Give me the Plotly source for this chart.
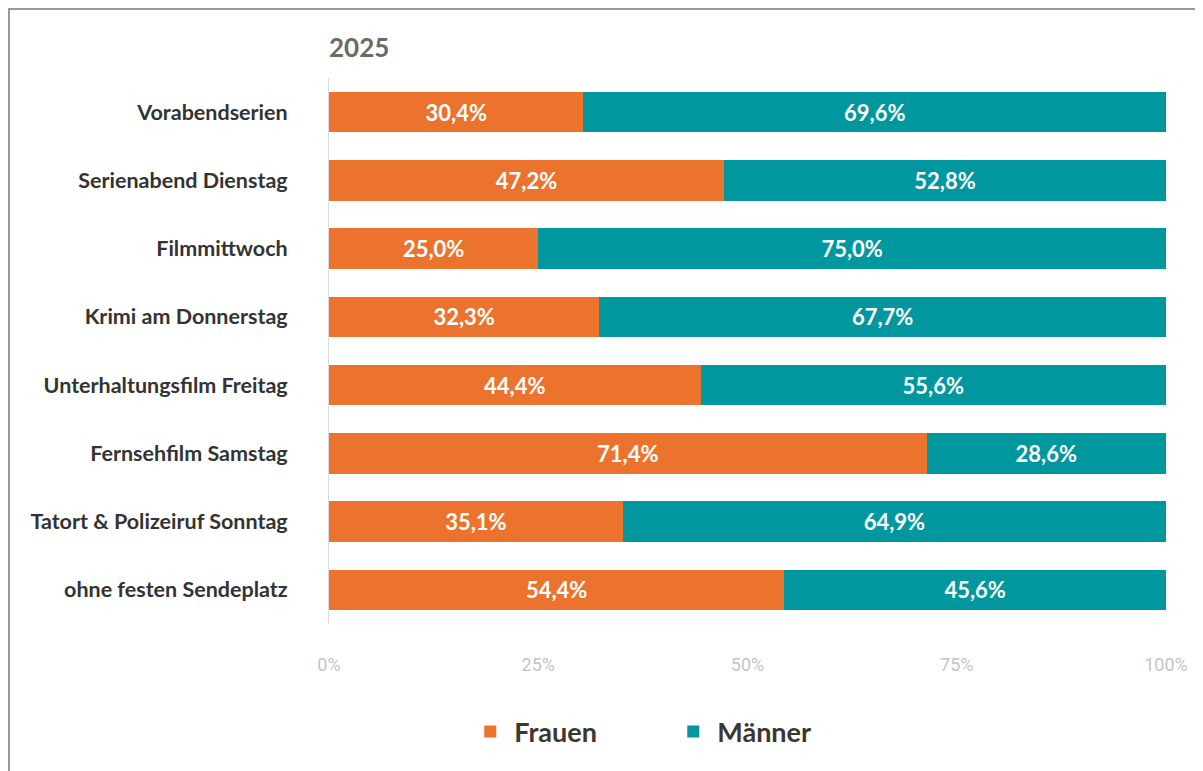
import plotly.graph_objects as go

categories = ["Vorabendserien", "Serienabend Dienstag", "Filmmittwoch", "Krimi am Donnerstag",
              "Unterhaltungsfilm Freitag", "Fernsehfilm Samstag", "Tatort & Polizeiruf Sonntag",
              "ohne festen Sendeplatz"]
frauen = [30.4, 47.2, 25.0, 32.3, 44.4, 71.4, 35.1, 54.4]
maenner = [69.6, 52.8, 75.0, 67.7, 55.6, 28.6, 64.9, 45.6]
x_ticks = [0, 25, 50, 75, 100]
x_ticklabels = ["0%", "25%", "50%", "75%", "100%"]

def fmt(v):
    return f"{v:.1f}%".replace(".", ",")

ORANGE = "#EC732D"
TEAL = "#00979F"
FONT = "Lato, 'Open Sans', sans-serif"

W, H = 1195, 763
L, T, PW, PH = 321, 70, 837, 546

fig = go.Figure()
for name, vals, col in [("Frauen", frauen, ORANGE), ("Männer", maenner, TEAL)]:
    fig.add_trace(go.Bar(
        y=categories, x=vals, name=name, orientation="h",
        marker=dict(color=col, line=dict(width=0)),
        text=[fmt(v) for v in vals], textposition="inside", insidetextanchor="middle",
        textangle=0, insidetextfont=dict(color="white", size=22, family=FONT, weight="bold"),
        hoverinfo="skip",
    ))

fig.update_layout(
    barmode="stack", bargap=0.41,
    width=W, height=H,
    margin=dict(l=L, r=W - L - PW, t=T, b=H - T - PH),
    paper_bgcolor="white", plot_bgcolor="white",
    font=dict(family=FONT),
    title=dict(text="<b>2025</b>", x=L / W, xanchor="left", y=1 - 40 / H, yanchor="middle",
               font=dict(size=26, color="#6b6a64", family=FONT)),
    legend=dict(orientation="h", x=0.164, xanchor="left", y=(T + PH - 724) / PH, yanchor="middle",
                font=dict(size=27, color="#3a3732", family=FONT, weight="bold"),
                itemwidth=38, entrywidth=150, traceorder="normal"),
    showlegend=True,
)
fig.update_xaxes(range=[0, 100], tickvals=x_ticks, ticktext=x_ticklabels, showgrid=False,
                 zeroline=False, showline=False, ticklabelstandoff=28,
                 tickfont=dict(size=18, color="#c4c4c4", family="'Liberation Sans Narrow', 'Roboto', sans-serif"))
fig.update_yaxes(autorange="reversed", showgrid=False, zeroline=False, showline=True,
                 linecolor="#d8dde3", linewidth=1, ticks="", ticklabelstandoff=36,
                 tickfont=dict(size=21.5, color="#333333", family=FONT, weight="bold"))

fig.add_shape(type="rect", xref="paper", yref="paper",
              x0=(1 - L) / PW, x1=(1191 - L) / PW, y0=(T + PH - 790) / PH, y1=(T + PH - 1) / PH,
              line=dict(color="#9a9a9a", width=2), fillcolor="rgba(0,0,0,0)", layer="below")

fig.write_html("out.html")
